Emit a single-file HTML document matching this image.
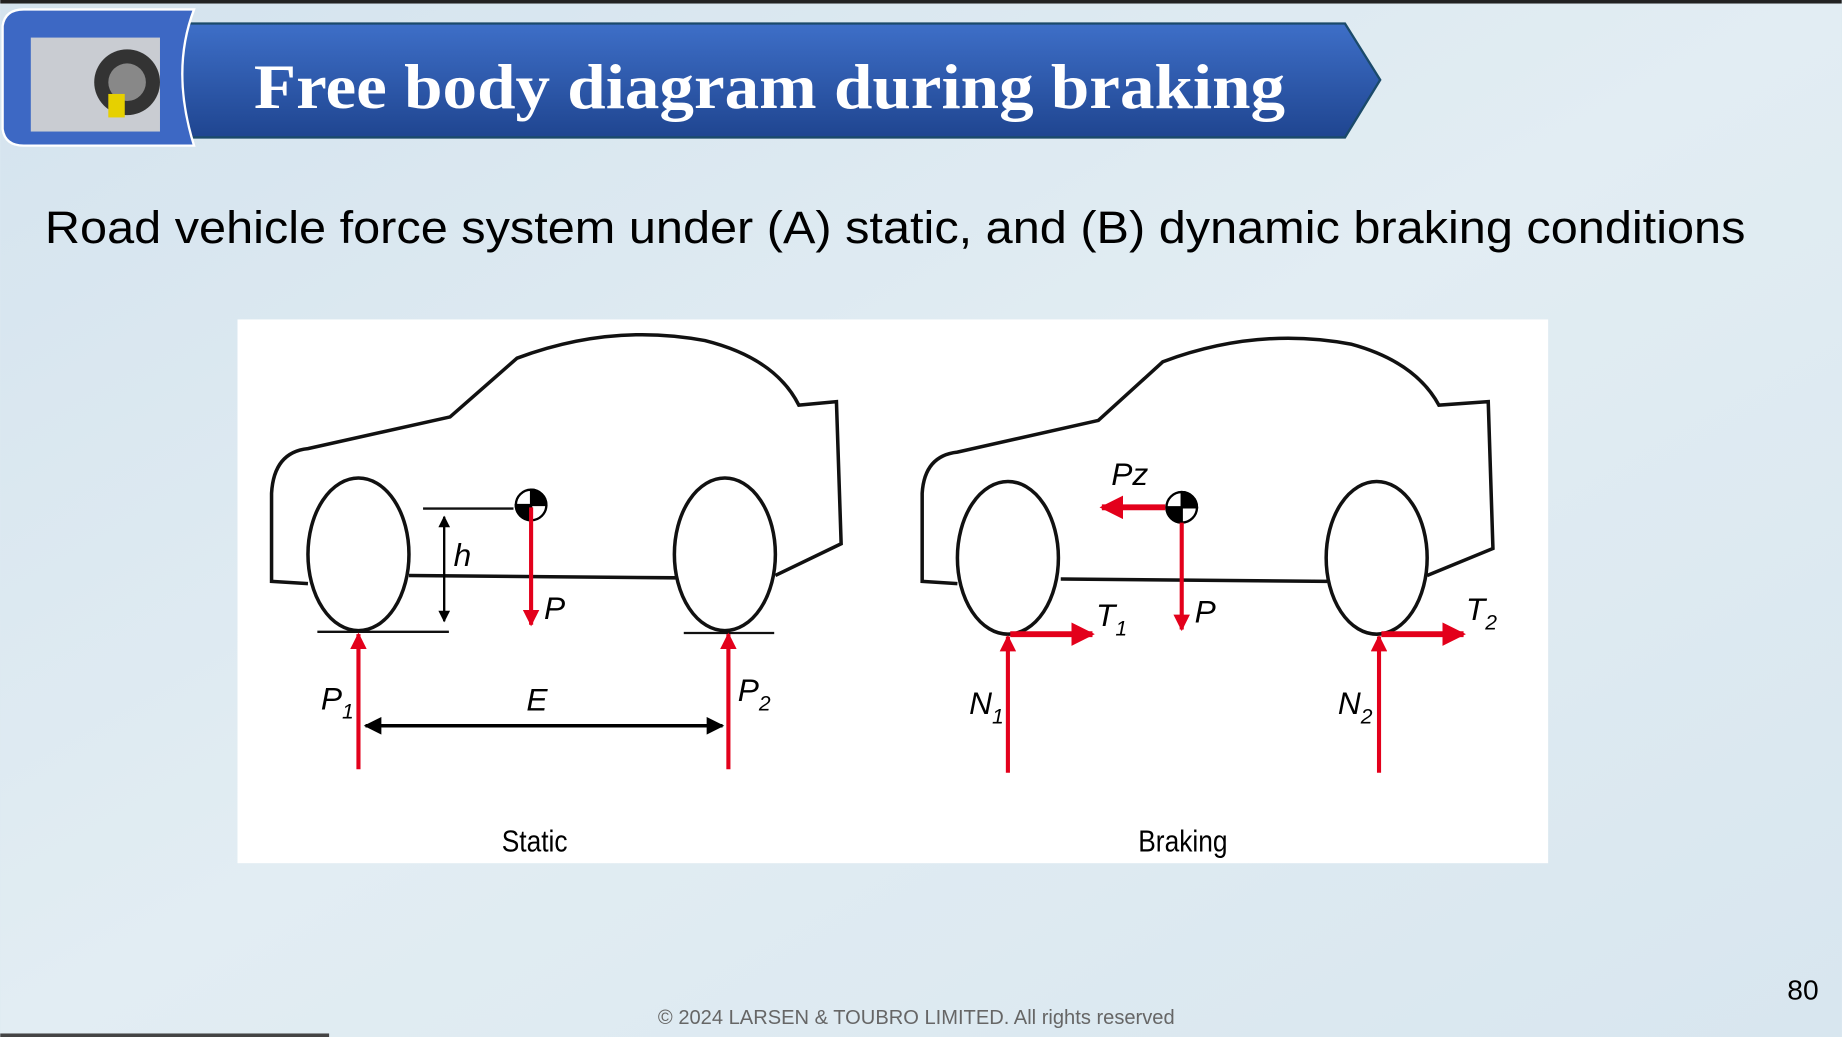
<!DOCTYPE html>
<html><head><style>
html,body{margin:0;padding:0;width:1842px;height:1037px;overflow:hidden;background:#dde9f1;}
svg{display:block}
</style></head><body>
<svg width="1842" height="1037" viewBox="0 0 1568 883" xmlns="http://www.w3.org/2000/svg">
<defs>
<linearGradient id="bg" x1="0" y1="0" x2="1" y2="1"><stop offset="0" stop-color="#d4e3ee"/><stop offset="0.5" stop-color="#e2edf3"/><stop offset="1" stop-color="#d8e6ef"/></linearGradient>
<linearGradient id="ban" x1="0" y1="0" x2="0" y2="1"><stop offset="0" stop-color="#3e6fc8"/><stop offset="1" stop-color="#1f4590"/></linearGradient>
<marker id="ar" viewBox="0 0 10 10" refX="9" refY="5" markerWidth="4" markerHeight="4" orient="auto"><path d="M0,0L10,5L0,10z" fill="#e3001b"/></marker>
<marker id="ab" viewBox="0 0 10 10" refX="9" refY="5" markerWidth="5" markerHeight="5" orient="auto-start-reverse"><path d="M0,0L10,5L0,10z" fill="#000"/></marker>
</defs>
<rect width="1568" height="883" fill="url(#bg)"/>
<rect width="1568" height="3" fill="#222"/>
<!-- banner -->
<path d="M150,20 L1145,20 L1175,68 L1145,117 L150,117 Z" fill="url(#ban)" stroke="#1b4a6a" stroke-width="2"/>
<path d="M2,22 Q4,8 20,8 L165,8 Q145,60 165,124 L20,124 Q4,124 2,110 Z" fill="#3d68c4" stroke="#fff" stroke-width="2"/>
<rect x="26" y="32" width="110" height="80" fill="#c9ccd2"/>
<circle cx="108" cy="70" r="28" fill="#333"/><circle cx="108" cy="70" r="16" fill="#888"/>
<rect x="92" y="80" width="14" height="20" fill="#e6d000"/>
<text x="655" y="92" text-anchor="middle" font-family="Liberation Serif,serif" font-weight="bold" font-size="54" fill="#fff" textLength="878" lengthAdjust="spacingAndGlyphs">Free body diagram during braking</text>
<text x="38" y="207" font-family="Liberation Sans,sans-serif" font-size="39" fill="#000" textLength="1448" lengthAdjust="spacingAndGlyphs">Road vehicle force system under (A) static, and (B) dynamic braking conditions</text>
<!-- panel -->
<rect x="202" y="272" width="1116" height="463" fill="#fff"/>
<g fill="none" stroke="#111" stroke-width="3">
<!-- static car -->
<path d="M262,497 L231,495 L231,420 Q233,385 262,382 L383,355 L440,305 Q520,275 600,290 Q660,305 680,345 L712,342 L716,463 L660,490"/>
<path d="M348,490 L575,492"/>
<ellipse cx="305" cy="472" rx="43" ry="65"/>
<ellipse cx="617" cy="472" rx="43" ry="65"/>
<path d="M270,538 L382,538 M582,539 L659,539 M360,433 L437,433" stroke-width="2"/>
<!-- braking car -->
<path d="M815,497 L785,495 L785,420 Q787,388 815,385 L935,358 L990,308 Q1070,278 1150,293 Q1205,308 1225,345 L1267,342 L1271,467 L1215,490"/>
<path d="M903,493 L1130,495"/>
<ellipse cx="858" cy="475" rx="43" ry="65"/>
<ellipse cx="1172" cy="475" rx="43" ry="65"/>
</g>
<line x1="378" y1="440" x2="378" y2="529" stroke="#000" stroke-width="2" marker-start="url(#ab)" marker-end="url(#ab)"/>
<line x1="311" y1="618" x2="615" y2="618" stroke="#000" stroke-width="3" marker-start="url(#ab)" marker-end="url(#ab)"/>
<!-- CG symbols -->
<g stroke="#000" stroke-width="2">
<circle cx="452" cy="430" r="13" fill="#fff"/>
<path d="M452,430 L452,417 A13,13 0 0 1 465,430 Z" fill="#000"/>
<path d="M452,430 L452,443 A13,13 0 0 1 439,430 Z" fill="#000"/>
<circle cx="1006" cy="432" r="13" fill="#fff"/>
<path d="M1006,432 L1006,419 A13,13 0 0 1 1019,432 Z" fill="#000"/>
<path d="M1006,432 L1006,445 A13,13 0 0 1 993,432 Z" fill="#000"/>
</g>
<!-- red arrows -->
<g stroke="#e3001b" stroke-width="3.5" marker-end="url(#ar)">
<line x1="452" y1="432" x2="452" y2="532"/>
<line x1="305" y1="655" x2="305" y2="540"/>
<line x1="620" y1="655" x2="620" y2="540"/>
<line x1="1006" y1="445" x2="1006" y2="536"/>
<line x1="858" y1="658" x2="858" y2="542"/>
<line x1="1174" y1="658" x2="1174" y2="542"/>
</g>
<g stroke="#e3001b" stroke-width="6" marker-end="url(#ar)">
<line x1="992" y1="432" x2="938" y2="432" stroke-width="5"/>
<line x1="860" y1="540" x2="930" y2="540" stroke-width="5"/>
<line x1="1176" y1="540" x2="1246" y2="540" stroke-width="5"/>
</g>
<!-- labels -->
<g font-family="Liberation Sans,sans-serif" font-style="italic" font-size="27" fill="#000">
<text x="386" y="482">h</text>
<text x="463" y="527">P</text>
<text x="273" y="604">P<tspan font-size="18" dy="8">1</tspan></text>
<text x="628" y="597">P<tspan font-size="18" dy="8">2</tspan></text>
<text x="448" y="605">E</text>
<text x="946" y="413">Pz</text>
<text x="1017" y="530">P</text>
<text x="933" y="533">T<tspan font-size="18" dy="8">1</tspan></text>
<text x="1248" y="528">T<tspan font-size="18" dy="8">2</tspan></text>
<text x="825" y="608">N<tspan font-size="18" dy="8">1</tspan></text>
<text x="1139" y="608">N<tspan font-size="18" dy="8">2</tspan></text>
</g>
<g font-family="Liberation Sans,sans-serif" font-size="26" fill="#000" text-anchor="middle">
<text x="455" y="725" textLength="56" lengthAdjust="spacingAndGlyphs">Static</text>
<text x="1007" y="725" textLength="76" lengthAdjust="spacingAndGlyphs">Braking</text>
</g>
<text x="1535" y="851" text-anchor="middle" font-family="Liberation Sans,sans-serif" font-size="24" fill="#000">80</text>
<text x="780" y="872" text-anchor="middle" font-family="Liberation Sans,sans-serif" font-size="17" fill="#666" textLength="440" lengthAdjust="spacingAndGlyphs">© 2024 LARSEN &amp; TOUBRO LIMITED. All rights reserved</text>
<rect x="0" y="880" width="280" height="3" fill="#444"/>
</svg>
</body></html>
